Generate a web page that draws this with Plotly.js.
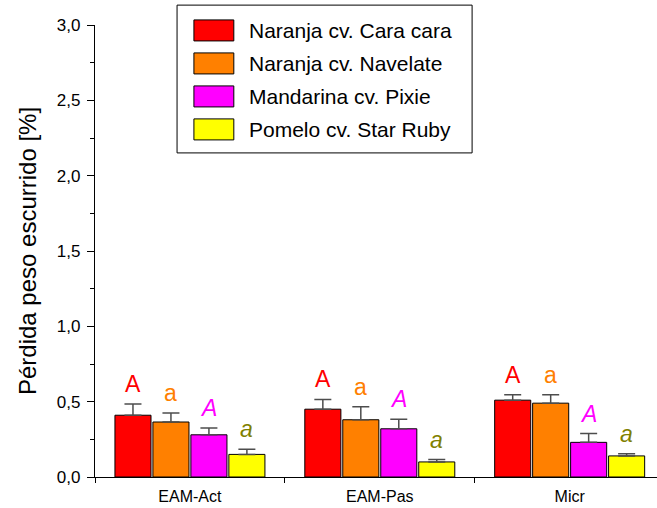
<!DOCTYPE html>
<html>
<head>
<meta charset="utf-8">
<script src="https://cdn.plot.ly/plotly-3.0.1.min.js"></script>
<style>html,body{margin:0;padding:0;background:#fff;}#chart{width:657px;height:508px;}</style>
</head>
<body>
<div id="chart"></div>
<script>
// ---- data ----
const categories = ['EAM-Act', 'EAM-Pas', 'Micr'];
const seriesNames = ['Naranja cv. Cara cara', 'Naranja cv. Navelate', 'Mandarina cv. Pixie', 'Pomelo cv. Star Ruby'];
const caraCara = [0.41, 0.45, 0.51];
const caraCaraErr = [0.075, 0.065, 0.036];
const navelate = [0.365, 0.38, 0.49];
const navelateErr = [0.06, 0.087, 0.056];
const pixie = [0.28, 0.32, 0.23];
const pixieErr = [0.046, 0.064, 0.058];
const starRuby = [0.15, 0.10, 0.14];
const starRubyErr = [0.035, 0.016, 0.014];
const caraCaraLetters = ['A', 'A', 'A'];
const navelateLetters = ['a', 'a', 'a'];
const pixieLetters = ['A', 'A', 'A'];
const starRubyLetters = ['a', 'a', 'a'];
const yTickVals = [0, 0.5, 1, 1.5, 2, 2.5, 3];

// ---- styling ----
const FONT = 'Arial, "Liberation Sans", sans-serif';
const barColors = ['#FF0000', '#FF8000', '#FF00FF', '#FFFF00'];
const letterColors = ['#FF0000', '#FF8000', '#FF00FF', '#808000'];
const letterItalic = [false, false, true, true];
const values = [caraCara, navelate, pixie, starRuby];
const errs = [caraCaraErr, navelateErr, pixieErr, starRubyErr];
const letters = [caraCaraLetters, navelateLetters, pixieLetters, starRubyLetters];

const BARGAP = 0.2;
const nSeries = values.length;
const slot = (1 - BARGAP) / nSeries;

const traces = values.map((vals, i) => ({
  type: 'bar',
  name: seriesNames[i],
  x: categories,
  y: vals,
  marker: {color: barColors[i], line: {color: '#000', width: 1}},
  error_y: {
    type: 'data', symmetric: false, array: errs[i], arrayminus: vals.map(() => 0),
    color: '#4d4d4d', thickness: 1.5, width: 8.5
  },
  showlegend: false,
  hoverinfo: 'skip'
}));

const annotations = [];
values.forEach((vals, i) => {
  vals.forEach((v, j) => {
    const t = letterItalic[i] ? '<i>' + letters[i][j] + '</i>' : letters[i][j];
    annotations.push({
      xref: 'x', yref: 'y',
      x: j + (i - (nSeries - 1) / 2) * slot,
      y: v + errs[i][j],
      text: t, showarrow: false,
      xanchor: 'center', yanchor: 'bottom', yshift: 5,
      font: {family: FONT, size: 23, color: letterColors[i]}
    });
  });
});

// custom legend (paper coordinates)
const shapes = [];
const lgX0 = 0.146, lgX1 = 0.671, lgY0 = 0.717, lgY1 = 1.044;
shapes.push({type: 'rect', xref: 'paper', yref: 'paper', x0: lgX0, x1: lgX1, y0: lgY0, y1: lgY1,
  line: {color: '#000', width: 1}, fillcolor: '#fff', layer: 'above'});
const rowTop = 0.988, rowStep = 0.073, swH = 0.0465;
seriesNames.forEach((name, i) => {
  const yc = rowTop - i * rowStep;
  shapes.push({type: 'rect', xref: 'paper', yref: 'paper', x0: 0.176, x1: 0.247,
    y0: yc - swH / 2, y1: yc + swH / 2, fillcolor: barColors[i], line: {color: '#000', width: 1}, layer: 'above'});
  annotations.push({xref: 'paper', yref: 'paper', x: 0.271, y: yc, xanchor: 'left', yanchor: 'middle',
    text: name, showarrow: false, font: {family: FONT, size: 21, color: '#000'}});
});

const layout = {
  width: 657, height: 508,
  margin: {l: 95, r: 0, t: 25, b: 31},
  paper_bgcolor: '#fff', plot_bgcolor: '#fff',
  font: {family: FONT, color: '#000'},
  separators: ',.',
  barmode: 'group', bargap: BARGAP, bargroupgap: 0.05,
  showlegend: false,
  xaxis: {
    type: 'category', range: [-0.5, 2.46],
    showline: true, linecolor: '#000', linewidth: 1.2,
    ticks: 'outside', tickson: 'boundaries', ticklen: 5, tickcolor: '#000', tickwidth: 1,
    showgrid: false, zeroline: false,
    tickfont: {family: FONT, size: 16, color: '#000'},
    ticklabelstandoff: 5
  },
  yaxis: {
    range: [0, 3], tickmode: 'array', tickvals: yTickVals, tickformat: '.1f',
    showline: true, linecolor: '#000', linewidth: 1.2,
    ticks: 'outside', ticklen: 7, tickcolor: '#000', tickwidth: 1,
    minor: {dtick: 0.25, tick0: 0, ticks: 'outside', ticklen: 4, tickcolor: '#000', tickwidth: 1, showgrid: false},
    showgrid: false, zeroline: false,
    tickfont: {family: FONT, size: 17, color: '#000'},
    ticklabelstandoff: 3,
    title: {text: 'Pérdida peso escurrido [%]', font: {family: FONT, size: 24, color: '#000'}, standoff: 13}
  },
  annotations: annotations,
  shapes: shapes
};

Plotly.newPlot('chart', traces, layout, {displayModeBar: false, staticPlot: true});
</script>
</body>
</html>
